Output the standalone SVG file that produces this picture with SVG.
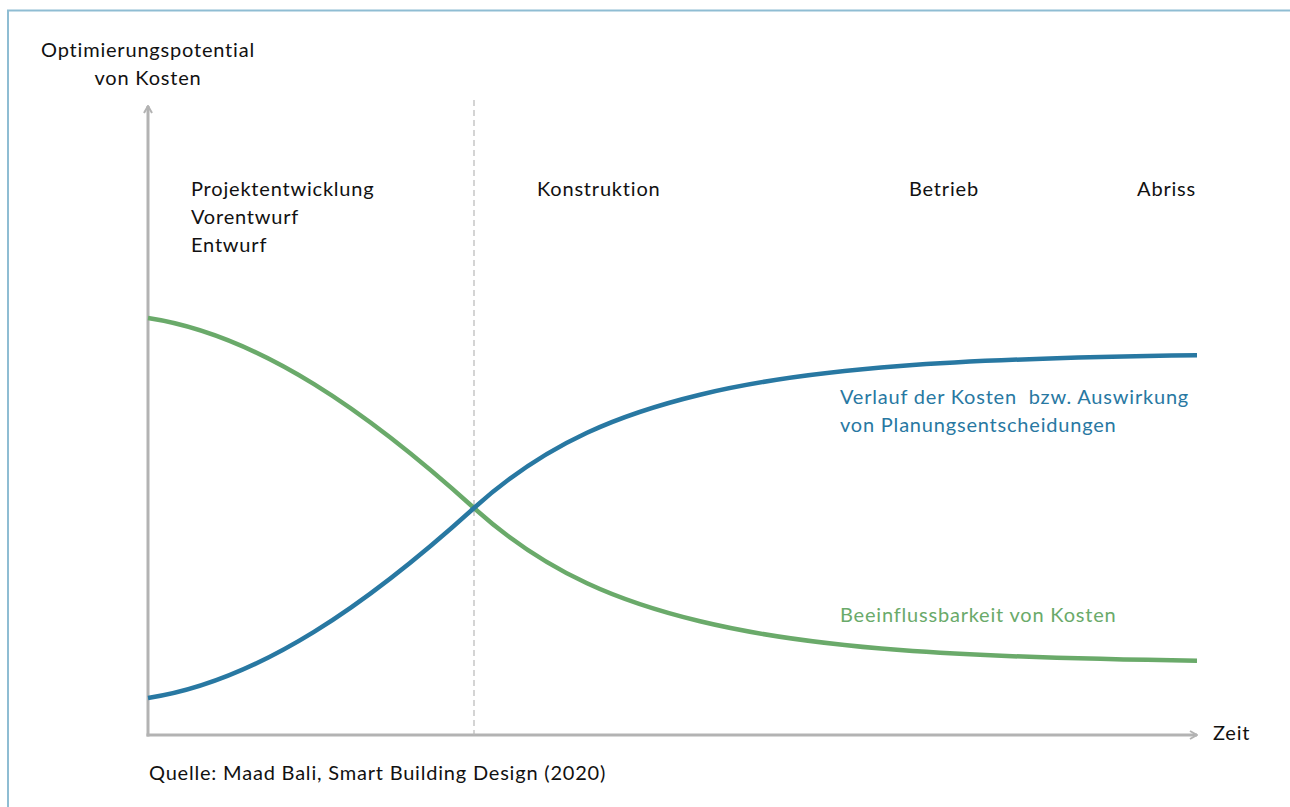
<svg xmlns="http://www.w3.org/2000/svg" width="1290" height="807" viewBox="0 0 1290 807">
<style>
text{font-family:Lato,"Open Sans","Noto Sans",sans-serif;font-size:20px;fill:#111;letter-spacing:0.8px;font-variant-ligatures:none;font-feature-settings:"liga" 0}
.blue{fill:#2878a2}
.green{fill:#6aaa6a}
.axis{stroke:#b3b3b3;stroke-width:3;fill:none}
.curve{fill:none;stroke-width:4.5;stroke-linecap:butt}
</style>
<defs>
<marker id="arr" viewBox="0 0 10 10" refX="9" refY="5" markerWidth="10" markerHeight="10" markerUnits="userSpaceOnUse" orient="auto">
<path d="M2,1 L9,5 L2,9" fill="none" stroke="#b3b3b3" stroke-width="2"/>
</marker>
</defs>
<rect width="1290" height="807" fill="#fff"/>
<path d="M8,807 V10.5 H1290" fill="none" stroke="#8fbdd3" stroke-width="2"/>
<g id="axes">
<line class="axis" x1="148" y1="736.5" x2="148" y2="106" marker-end="url(#arr)"/>
<line class="axis" x1="146.5" y1="735" x2="1197" y2="735" marker-end="url(#arr)"/>
<line x1="474" y1="100" x2="474" y2="735" stroke="#b8b8b8" stroke-width="1.2" stroke-dasharray="6 4"/>
</g>
<g id="connectors">
<path id="green-curve" class="curve" stroke="#6aaa6a" d="M148,318 C260,335 370,414 474,508 C549.3,575.9 624.7,603.04 700,621.3 C766.7,637.46 833.3,644.95 900,650 C999,657.49 1098,659.37 1197,660.7"/>
<path id="blue-curve" class="curve" stroke="#2878a2" d="M148,698 C260,681 370,602 474,508 C549.3,440.1 624.7,412.96 700,394.7 C766.7,378.54 833.3,371.05 900,366 C999,358.51 1098,356.63 1197,355.3"/>
</g>
<g id="y-label">
<text x="148" y="57" text-anchor="middle">Optimierungspotential</text>
<text x="148" y="85" text-anchor="middle">von Kosten</text>
</g>
<g id="x-label"><text x="1213" y="740">Zeit</text></g>
<g id="phase-1">
<text x="191" y="196">Projektentwicklung</text>
<text x="191" y="224">Vorentwurf</text>
<text x="191" y="252">Entwurf</text>
</g>
<g id="phase-2"><text x="537" y="196">Konstruktion</text></g>
<g id="phase-3"><text x="909" y="196">Betrieb</text></g>
<g id="phase-4"><text x="1196" y="196" text-anchor="end">Abriss</text></g>
<g id="label-blue">
<text class="blue" x="840" y="404" xml:space="preserve">Verlauf der Kosten  bzw. Auswirkung</text>
<text class="blue" x="840" y="432">von Planungsentscheidungen</text>
</g>
<g id="label-green"><text class="green" x="840" y="622">Beeinflussbarkeit von Kosten</text></g>
<g id="source"><text x="149" y="780">Quelle: Maad Bali, Smart Building Design (2020)</text></g>
</svg>
